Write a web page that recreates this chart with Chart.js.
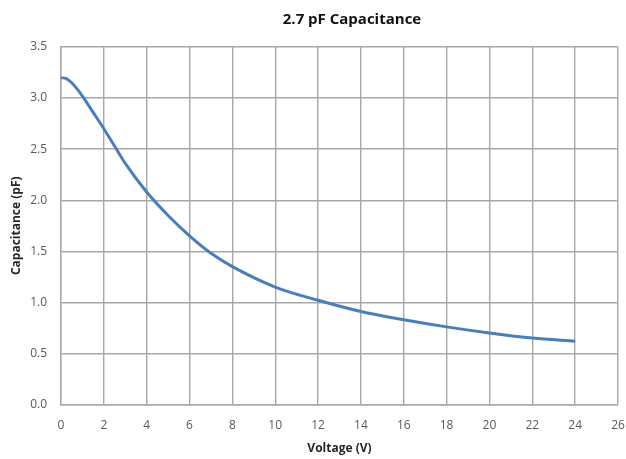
<!DOCTYPE html>
<html>
<head>
<meta charset="utf-8">
<script src="https://cdn.jsdelivr.net/npm/chart.js@4.4.1/dist/chart.umd.min.js"></script>
<style>
  html, body { margin: 0; padding: 0; background: #fff; }
  #wrap { width: 626px; height: 459px; }
</style>
</head>
<body>
<div id="wrap"><canvas id="grafico" width="626" height="459"></canvas></div>
<script>
// Dados
const tensao = [0, 0.25, 0.5, 0.75, 1, 1.5, 2, 2.5, 3, 4, 5, 6, 7, 8, 10, 12, 14, 16, 18, 20, 22, 24];
const capacitancia = [3.20, 3.19, 3.15, 3.09, 3.02, 2.86, 2.70, 2.53, 2.36, 2.08, 1.85, 1.65, 1.48, 1.35, 1.15, 1.02, 0.91, 0.83, 0.76, 0.70, 0.65, 0.62];
const ticksX = [0, 2, 4, 6, 8, 10, 12, 14, 16, 18, 20, 22, 24, 26];
const ticksY = [0, 0.5, 1, 1.5, 2, 2.5, 3, 3.5];

const fonte = '"Open Sans", "Noto Sans", sans-serif';
const corGrade = '#a8a8a8';

// Título desenhado por cima (fica um pouco à direita do centro, como no original)
const tituloPlugin = {
  id: 'tituloPlugin',
  afterDraw(chart) {
    const ctx = chart.ctx;
    ctx.save();
    ctx.font = 'bold 15px ' + fonte;
    ctx.fillStyle = '#111';
    ctx.textAlign = 'center';
    ctx.textBaseline = 'alphabetic';
    ctx.fillText('2.7 pF Capacitance', 352, 24);
    ctx.restore();
  }
};

const ctx = document.getElementById('grafico').getContext('2d');
new Chart(ctx, {
  type: 'line',
  data: {
    datasets: [{
      data: tensao.map((v, i) => ({ x: v, y: capacitancia[i] })),
      borderColor: '#4A7EBB',
      borderWidth: 3,
      pointRadius: 0,
      fill: false,
      cubicInterpolationMode: 'monotone'
    }]
  },
  options: {
    responsive: false,
    animation: false,
    layout: { padding: { top: 47, right: 8, bottom: 0, left: 0 } },
    plugins: {
      legend: { display: false },
      tooltip: { enabled: false }
    },
    scales: {
      x: {
        type: 'linear',
        min: 0,
        max: 26,
        afterBuildTicks: (s) => { s.ticks = ticksX.map(v => ({ value: v })); },
        afterFit: (s) => { s.height = 54.5; s.paddingRight = 0; s.paddingLeft = 0; },
        grid: { color: corGrade, lineWidth: 1.4, drawTicks: false },
        border: { color: corGrade, width: 1.4 },
        ticks: { padding: 14, color: '#595959', font: { family: fonte, size: 12 }, maxRotation: 0 },
        title: {
          display: true,
          text: 'Voltage (V)',
          color: '#262626',
          font: { family: fonte, size: 12, weight: 'bold' },
          padding: { top: 3, bottom: 3 }
        }
      },
      y: {
        min: 0,
        max: 3.5,
        afterBuildTicks: (s) => { s.ticks = ticksY.map(v => ({ value: v })); },
        afterFit: (s) => { s.width = 61; },
        grid: { color: corGrade, lineWidth: 1.4, drawTicks: false },
        border: { color: corGrade, width: 1.4 },
        ticks: {
          padding: 14,
          color: '#595959',
          font: { family: fonte, size: 12 },
          callback: (v) => Number(v).toFixed(1)
        },
        title: {
          display: true,
          text: 'Capacitance (pF)',
          color: '#262626',
          font: { family: fonte, size: 12, weight: 'bold' },
          padding: { top: 9, bottom: 4 }
        }
      }
    }
  },
  plugins: [tituloPlugin]
});
</script>
</body>
</html>
